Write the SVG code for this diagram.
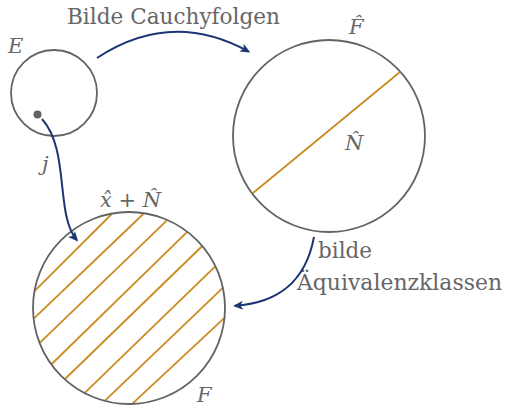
<svg xmlns="http://www.w3.org/2000/svg" width="506" height="406" viewBox="0 0 506 406">
<style>
.set{fill:none;stroke:#636363;stroke-width:1.8}
.hatch{stroke:#cc8a22;stroke-width:1.8;fill:none}
.arr{fill:none;stroke:#1b3673;stroke-width:2}
.lbl{font-family:"DejaVu Serif","Liberation Serif",serif;font-size:22.5px;fill:#666}
.math{font-family:"DejaVu Serif","Liberation Serif",serif;font-style:italic;font-size:21px;fill:#666}
</style>
<defs>
<marker id="ah" markerUnits="userSpaceOnUse" viewBox="-10 -6 13 12" refX="0" refY="0" markerWidth="13" markerHeight="12" orient="auto">
<path d="M2,0 L-8,-4.5 L-5.5,0 L-8,4.5 Z" fill="#1b3673"/>
</marker>
</defs>
<rect width="506" height="406" fill="#fff"/>
<g id="E">
<circle class="set" cx="54" cy="93" r="43"/>
<circle cx="37.5" cy="114.5" r="4" fill="#636363"/>
<text class="math" x="8" y="53">E</text>
</g>
<g id="Fhat">
<circle class="set" cx="329" cy="136" r="96"/>
<line class="hatch" x1="253" y1="193" x2="400" y2="72"/>
<text class="math" x="349" y="34">F̂</text>
<text class="math" x="345" y="150">N̂</text>
</g>
<g id="F">
<g class="hatch">
<line x1="35" y1="290.7" x2="111.7" y2="214"/>
<line x1="34" y1="318.3" x2="143.3" y2="214"/>
<line x1="40" y1="342.7" x2="166.7" y2="220.7"/>
<line x1="51.7" y1="364" x2="186.7" y2="232.3"/>
<line x1="65" y1="379" x2="202.3" y2="246"/>
<line x1="85" y1="392.7" x2="215" y2="266.7"/>
<line x1="105" y1="400.7" x2="223.3" y2="287.3"/>
<line x1="132.7" y1="403.3" x2="225" y2="317.3"/>
</g>
<circle class="set" cx="129" cy="308" r="96"/>
<text class="math" x="100" y="207">x̂ <tspan font-style="normal">+</tspan> N̂</text>
<text class="math" x="197" y="402">F</text>
</g>
<g id="labels">
<text class="lbl" x="67" y="24" textLength="213" lengthAdjust="spacingAndGlyphs">Bilde Cauchyfolgen</text>
<text class="math" x="42" y="171">j</text>
<text class="lbl" x="318" y="258" textLength="54" lengthAdjust="spacingAndGlyphs">bilde</text>
<text class="lbl" x="297" y="290" textLength="205" lengthAdjust="spacingAndGlyphs">Äquivalenzklassen</text>
</g>
<g id="connectors">
<path class="arr" d="M97,58 Q171,9 248.5,51.5" marker-end="url(#ah)"/>
<path class="arr" d="M42,119 C70,150 55,215 76.8,240" marker-end="url(#ah)"/>
<path class="arr" d="M314,237 C305,285 275,303 235,305.8" marker-end="url(#ah)"/>
</g>
</svg>
